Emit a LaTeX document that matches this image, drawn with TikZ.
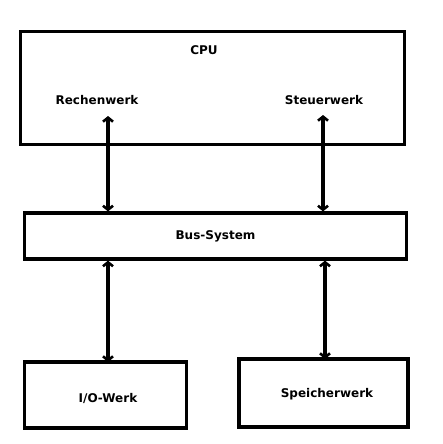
\documentclass[tikz,border=0pt]{standalone}
\usepackage{fontspec}
\setmainfont{DejaVu Sans}
\usetikzlibrary{arrows.meta,positioning}

\begin{document}
\begin{tikzpicture}[x=1pt,y=-1pt,
  font=\fontsize{12}{14}\selectfont\bfseries,
  box/.style={draw=black,line width=3.2pt,fill=white,inner sep=0pt},
  lbl/.style={inner sep=1pt},
  arr/.style={{Straight Barb[length=4pt,width=10pt,line width=2.6pt]}-{Straight Barb[length=4pt,width=10pt,line width=2.6pt]},line width=3.2pt,draw=black}]
\useasboundingbox (0,0) rectangle (442,444);
% boxes
\node[box,minimum width=384pt,minimum height=113pt] (cpu) at (212.5,88) {};
\node[box,minimum width=382pt,minimum height=46pt] (bus) at (215.5,236) {};
\node[box,minimum width=162pt,minimum height=66pt] (io) at (105.5,395) {};
\node[box,minimum width=169pt,minimum height=68pt] (mem) at (323.5,393) {};
% texts
\node[lbl] (cput) at (204,50) {CPU};
\node[lbl] (rw) at (97,100) {Rechenwerk};
\node[lbl] (sw) at (324,100) {Steuerwerk};
\node[lbl] at (bus.center) {Bus-System};
\node[lbl] at (108,398) {I/O-Werk};
\node[lbl] at (327,394) {Speicherwerk};
% connectors
\coordinate (rwa) at (108,116);
\coordinate (swa) at (323,115);
\draw[arr] (rwa) -- (rwa |- bus.north);
\draw[arr] (swa) -- (swa |- bus.north);
\coordinate (ioa) at (108,362);
\coordinate (mema) at (325,359);
\draw[arr] (ioa |- bus.south) -- (ioa);
\draw[arr] (mema |- bus.south) -- (mema);
\end{tikzpicture}
\end{document}
